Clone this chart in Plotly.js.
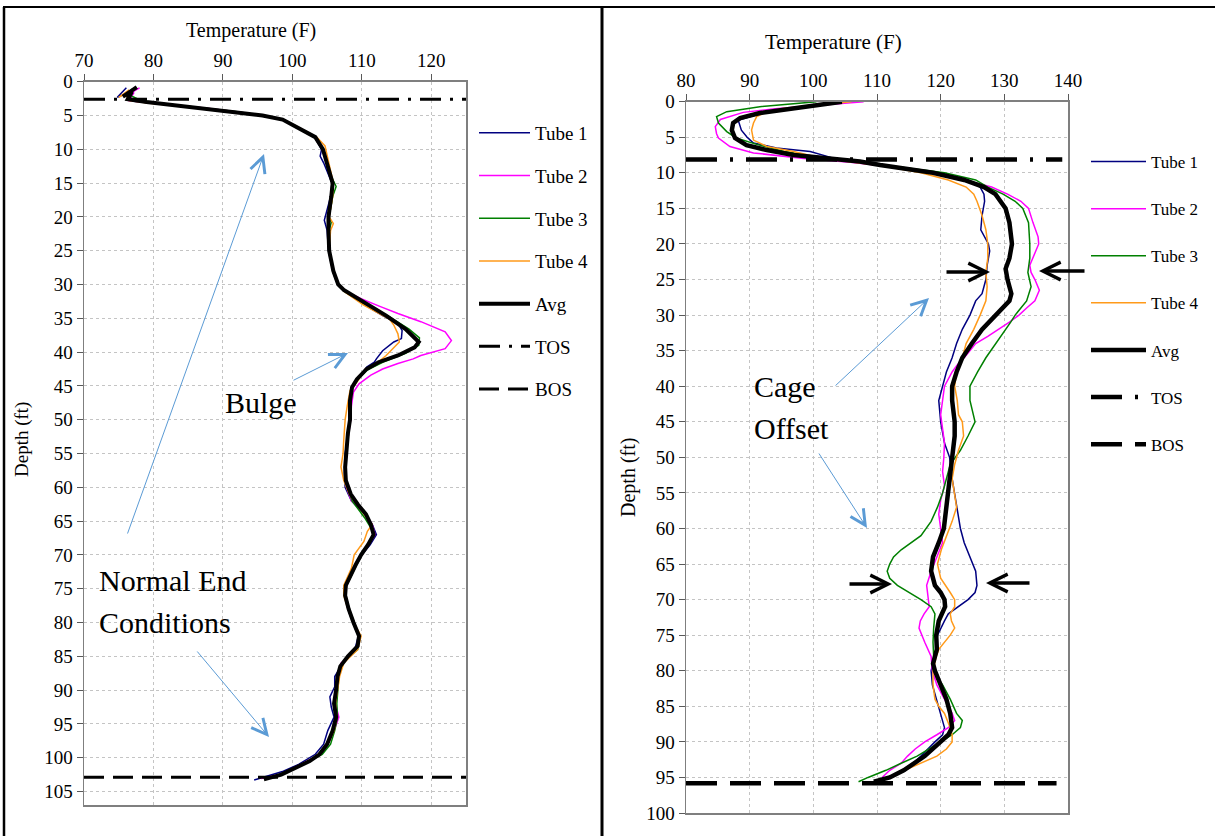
<!DOCTYPE html>
<html>
<head>
<meta charset="utf-8">
<script src="https://cdn.plot.ly/plotly-3.0.1.min.js"></script>
<style>
html,body{margin:0;padding:0;background:#fff;}
#chart{width:1215px;height:836px;}
</style>
</head>
<body>
<div id="chart"></div>
<script>
// ---------------- DATA (pairs are [depth ft, temperature F]) ----------------
const seriesNames = ['Tube 1', 'Tube 2', 'Tube 3', 'Tube 4', 'Avg', 'TOS', 'BOS'];
const seriesColors = ['#000080', '#ff00ff', '#008000', '#ff9a1a', '#000000', '#000000', '#000000'];

const leftTempTicks = [70, 80, 90, 100, 110, 120];
const leftDepthTicks = [0, 5, 10, 15, 20, 25, 30, 35, 40, 45, 50, 55, 60, 65, 70, 75, 80, 85, 90, 95, 100, 105];
const rightTempTicks = [80, 90, 100, 110, 120, 130, 140];
const rightDepthTicks = [0, 5, 10, 15, 20, 25, 30, 35, 40, 45, 50, 55, 60, 65, 70, 75, 80, 85, 90, 95, 100];

// Left chart
const leftTube1 = [[0.9,76.1],[2.3,74.8],[1.8,76.0],[2.9,77.2],[3.4,82.0],[4.0,88.0],[4.5,92.0],[5.0,95.5],[5.7,98.8],[6.7,100.7],[8.2,103.2],[10,104.2],[11,104.0],[12,104.5],[15,105.7],[17,105.5],[19,105.0],[20.5,104.6],[22,105.0],[25,105.2],[28,105.8],[30,106.5],[31,107.5],[33,110.4],[34.6,113.0],[35.8,115.2],[36.8,115.8],[38,115.7],[38.5,114.6],[39,114.0],[39.8,113.0],[41,112.1],[41.5,111.8],[42.2,110.7],[43.7,109.6],[45.2,108.5],[47,108.2],[50,108.2],[53,107.9],[55,107.6],[58,107.5],[60,107.6],[62,108.5],[64,110.4],[65.5,111.5],[67,112.1],[68.5,111.2],[70,110.0],[72,108.9],[74.5,107.7],[76,107.5],[78,108.0],[80,108.7],[82,109.5],[84,109.0],[86,107.3],[88,106.1],[89.5,106.1],[91,105.4],[92.5,105.6],[94,106.0],[96,105.1],[98,104.5],[99.5,103.3],[101,100.9],[102,98.7],[103.3,94.5]];
const leftTube2 = [[0.9,78.0],[2.1,76.0],[1.6,77.2],[2.8,76.5],[3.3,81.0],[3.9,87.5],[4.5,92.5],[5.0,95.8],[5.7,98.8],[6.7,100.6],[8.2,103.2],[10,104.4],[12,105.0],[15,105.8],[17,105.7],[20,105.3],[22,105.2],[25,105.3],[28,105.9],[30,106.6],[31,107.6],[32.1,109.9],[33.2,112.5],[34.3,115.2],[35.5,118.5],[37,122.0],[38.3,122.9],[39.5,122.0],[40.5,118.5],[41,117.4],[41.7,115.2],[42.5,113.0],[43.4,111.3],[44.7,109.6],[45.9,108.8],[48,108.5],[50,108.4],[53,108.0],[55,107.7],[58,107.6],[60,107.8],[62,108.5],[64,110.6],[65.5,111.5],[67,111.9],[68.5,111.0],[70,110.0],[72,108.8],[74.5,107.8],[76,107.6],[78,108.1],[80,108.8],[82,109.7],[84,109.3],[86,107.0],[88,106.6],[90,106.4],[92,106.2],[94,106.7],[96,106.0],[98,105.1],[99.5,104.0],[101,101.2],[102.5,98.2],[103.1,95.5]];
const leftTube3 = [[1.0,77.0],[2.0,76.6],[2.6,77.8],[3.0,79.5],[3.4,83.0],[3.9,87.5],[4.4,91.8],[5.0,95.6],[5.6,98.6],[6.7,100.6],[8.2,103.3],[10,104.5],[12,105.1],[14,105.6],[15.5,106.3],[17,105.8],[20,105.3],[20.8,105.6],[22,105.3],[25,105.3],[28,105.9],[30,106.6],[31,107.4],[33,110.5],[34.8,114.0],[36.6,116.8],[37.9,118.3],[39,118.2],[40.2,116.3],[41.5,113.0],[42.7,110.7],[44.3,109.1],[45.5,108.4],[48,108.3],[50,108.3],[53,108.0],[55,107.7],[58,107.7],[60,107.9],[62,108.6],[64.5,110.4],[66,111.3],[67,111.8],[68.5,111.0],[70,110.0],[72,109.0],[74.5,107.8],[76,107.7],[78,108.2],[80,108.9],[82,109.6],[84,109.4],[86,107.1],[88,106.7],[90,106.6],[92,106.4],[94,106.5],[96,106.1],[98,105.5],[99.5,104.3],[101,101.5],[102.5,98.6],[103.1,96.0]];
const leftTube4 = [[1.2,76.5],[2.3,75.0],[1.8,75.9],[2.8,76.5],[3.2,79.5],[3.7,85.0],[4.3,90.5],[5.0,95.7],[5.7,98.9],[6.7,100.8],[8.2,103.5],[9.5,104.7],[12,105.2],[15,105.9],[17,105.8],[20,105.3],[21,105.9],[22,105.5],[25,105.3],[28,105.9],[30,106.6],[31,107.4],[33,110.2],[35.1,114.0],[36,114.6],[37.3,115.2],[38.5,115.4],[39.3,114.6],[40.5,113.5],[41.7,112.1],[42.5,110.5],[44.3,109.4],[45.7,108.3],[48,107.9],[50,107.6],[53,107.4],[55,107.3],[57,107.0],[59,107.4],[61,108.2],[63,109.6],[64.5,110.7],[65.5,111.5],[66.5,110.8],[68,110.3],[70,108.9],[72,108.5],[74.5,107.4],[76,107.4],[78,108.0],[80,108.8],[82,109.9],[84,109.4],[86,107.4],[88,106.8],[90,106.5],[92,106.2],[94,106.4],[96,106.0],[98,105.1],[99.5,104.0],[101,101.3],[102.5,98.5],[103,96.3]];
const leftAvg = [[0.8,77.6],[2.2,75.6],[1.5,76.9],[2.6,76.3],[3.0,79.0],[3.4,82.5],[3.9,87.0],[4.4,91.5],[5.0,95.7],[5.6,98.6],[6.7,100.6],[7.5,101.9],[8.2,103.3],[10,104.4],[12,105.0],[15,105.8],[17,105.6],[20,105.2],[22,105.2],[25,105.3],[28,105.9],[30,106.6],[30.8,107.4],[32.9,110.7],[34.6,113.5],[36.6,116.3],[37.8,117.6],[38.5,118.2],[39.3,117.6],[40.5,115.2],[41.5,112.4],[42.5,110.7],[44,109.3],[45.2,108.6],[47.2,108.3],[50,108.3],[52,108.0],[55,107.7],[57,107.6],[59,107.7],[61,108.4],[62.5,109.4],[64,110.6],[65.5,111.3],[67,111.7],[68.5,110.9],[70,109.9],[71.5,109.1],[73,108.4],[74.5,107.7],[76,107.6],[78,108.1],[80,108.8],[82,109.6],[83.5,109.4],[85,108.0],[86.5,106.9],[88,106.5],[90,106.3],[92,106.0],[94,106.3],[96,105.8],[98,105.0],[99.5,103.9],[100.5,102.5],[101.5,100.3],[102.5,98.4],[103.2,95.9]];
const leftTOS = [[2.6,70],[2.6,125]];
const leftBOS = [[102.9,70],[102.9,125]];

// Right chart
const rightTube1 = [[0,104.0],[0.8,97.0],[1.6,92.0],[2.6,88.2],[4.0,88.7],[5.0,89.6],[5.8,90.6],[6.5,94.2],[7.0,99.5],[7.5,101.5],[8.0,103.4],[9,110.8],[10,119.4],[11,124.3],[12,126.2],[13,126.8],[14,126.9],[16,126.5],[18,126.3],[20,127.5],[21,127.7],[23,127.3],[25,127.1],[27,126.5],[28,125.5],[30,124.6],[32,123.4],[34,122.5],[36,121.8],[38,120.9],[40,120.3],[42,119.7],[44,119.9],[45,120.0],[48,120.6],[50,121.4],[53,121.8],[55,122.2],[57,122.6],[60,123.1],[62,123.7],[64,124.6],[66,125.5],[68,125.7],[69,125.4],[70,124.3],[71,122.8],[72,121.2],[73,120.6],[74,120.0],[75,119.5],[77,119.3],[79,118.8],[80,118.5],[82,118.7],[84,119.3],[86,120.0],[88,120.6],[89,120.3],[90,119.1],[92,116.9],[94,114.5],[95,112.0],[95.6,110.0]];
const rightTube2 = [[0,107.9],[0.5,101.0],[1,94.0],[1.5,89.0],[2.5,85.4],[3.5,84.6],[4.5,84.8],[5.1,85.1],[6.3,86.9],[7.2,90.6],[7.7,95.8],[8.0,98.5],[8.5,105.8],[9,110.8],[10,118.2],[11,123.7],[12,128.0],[13,130.5],[14,132.6],[15,133.8],[17,134.5],[19,135.3],[20,135.4],[22,134.5],[23,134.0],[24,134.2],[25,134.8],[26.5,135.5],[28,134.8],[29,133.5],[30,132.3],[31,130.8],[32,129.2],[33,127.4],[34,125.5],[35,124.6],[36,123.7],[37,122.6],[38,121.8],[40,120.6],[42,120.3],[44,120.0],[46,120.3],[48,120.6],[50,120.5],[52,120.3],[54,120.6],[56,120.0],[58,119.7],[60,120.0],[62,120.3],[64,119.4],[66,118.5],[68,117.8],[70,118.0],[71,118.2],[72,117.4],[73,116.8],[74,116.6],[75,117.0],[76,117.5],[78,118.5],[80,118.7],[82,119.4],[84,120.6],[86,121.8],[87,122.2],[88,121.2],[89,119.4],[90,117.5],[91,116.0],[92,114.8],[93,113.8],[94,112.0],[95,110.8]];
const rightTube3 = [[0,100.5],[0.7,91.6],[1.4,86.4],[2.1,84.8],[3.0,85.1],[4.2,86.4],[5.1,87.9],[6,91.1],[7,95.4],[8,102.2],[9,112.0],[10,120.6],[11,125.5],[12,127.4],[13,129.8],[14,131.7],[15,132.9],[17,133.8],[20,134.0],[22,134.0],[24,133.7],[26,134.2],[28,133.5],[29,132.6],[30,131.7],[31,131.0],[32,130.2],[34,128.6],[36,127.1],[38,125.8],[40,124.6],[42,124.6],[44,125.2],[45,125.4],[47,124.3],[49,123.1],[51,121.5],[53,120.9],[55,120.3],[57,119.5],[59,118.5],[61,116.9],[62,115.4],[63,113.8],[64,112.6],[65,112.0],[66,111.6],[67,112.0],[68,113.2],[69,115.1],[70,116.9],[71,118.5],[72,119.1],[74,118.9],[76,118.8],[78,118.9],[80,118.8],[82,120.3],[84,121.5],[86,122.5],[87,123.4],[88,123.1],[89,121.8],[90,120.0],[91,118.2],[92,116.3],[93,113.8],[94,111.4],[95,108.6],[95.6,107.1]];
const rightTube4 = [[0,106.0],[0.5,99.5],[1,95.0],[1.5,92.5],[2.1,91.1],[3,90.6],[4.0,90.3],[5.4,90.6],[6.3,92.7],[7,96.9],[8,101.5],[9,110.8],[10,116.9],[11,121.2],[12,124.0],[13,125.2],[14,125.7],[16,126.5],[18,127.1],[20,127.4],[22,127.4],[24,127.1],[26,127.3],[28,127.1],[30,126.2],[32,125.2],[34,124.0],[36,123.4],[38,122.5],[40,122.2],[42,122.6],[44,122.8],[45,123.4],[47,123.6],[49,122.8],[51,122.2],[53,121.8],[55,122.2],[57,122.5],[59,121.8],[61,120.9],[63,120.1],[65,119.5],[67,120.0],[69,121.5],[70,122.2],[71,122.2],[72,121.5],[73,121.7],[74,122.2],[75,121.5],[76,120.6],[77,119.7],[78,119.3],[80,118.8],[82,118.8],[84,119.1],[85,119.7],[86,120.6],[88,121.5],[89,121.8],[90,121.8],[91,120.9],[92,119.4],[93,116.9],[94,114.5],[95,112.0],[95.5,110.5]];
const rightAvg = [[0,104.5],[0.9,96.9],[1.6,91.6],[2.3,88.5],[3.0,87.4],[4.0,87.2],[5.1,87.7],[6.1,89.5],[6.8,92.7],[7.5,96.9],[7.9,102.1],[8.4,107.3],[8.9,110.5],[10,118.8],[11,123.7],[12,126.8],[13,128.6],[15,130.2],[17,130.8],[20,131.2],[22,130.8],[23.5,130.2],[25,130.5],[27,131.1],[28,130.8],[30,128.6],[32,126.5],[34,124.9],[36,123.4],[38,122.5],[40,121.8],[42,121.8],[45,122.2],[47,122.2],[50,121.8],[55,121.2],[58,120.9],[60,120.5],[62,119.7],[64,118.8],[66,118.5],[68,119.1],[69,120.0],[70,120.6],[71,120.7],[73,119.7],[75,119.3],[77,119.4],[79,118.8],[80,119.1],[82,120.0],[84,120.9],[86,121.5],[88,121.8],[89,121.2],[90,120.0],[92,117.5],[94,114.2],[95,112.0],[95.6,109.5]];
const rightTOS = [[8.14,80],[8.14,139.1]];
const rightBOS = [[95.8,80],[95.8,138.2]];

// ---------------- LAYOUT HELPERS ----------------
const W = 1215, H = 836;
const FONT = 'Liberation Serif';
const px = x => x / W;
const py = y => 1 - y / H;

function mk(pairs, i, xa, ya, lg, width, dash) {
  return {
    type: 'scatter', mode: 'lines',
    x: pairs.map(p => p[1]), y: pairs.map(p => p[0]),
    xaxis: xa, yaxis: ya, legend: lg,
    name: seriesNames[i], legendgroup: lg + i,
    line: {color: seriesColors[i], width: width, dash: dash || 'solid'},
    hoverinfo: 'skip'
  };
}

const traces = [
  mk(leftTube1, 0, 'x', 'y', 'legend', 1.5),
  mk(leftTube2, 1, 'x', 'y', 'legend', 1.5),
  mk(leftTube3, 2, 'x', 'y', 'legend', 1.5),
  mk(leftTube4, 3, 'x', 'y', 'legend', 1.5),
  mk(leftAvg, 4, 'x', 'y', 'legend', 4),
  mk(leftTOS, 5, 'x', 'y', 'legend', 3, '21px,9px,3px,9px'),
  mk(leftBOS, 6, 'x', 'y', 'legend', 3, '20px,9px'),
  mk(rightTube1, 0, 'x2', 'y2', 'legend2', 1.5),
  mk(rightTube2, 1, 'x2', 'y2', 'legend2', 1.5),
  mk(rightTube3, 2, 'x2', 'y2', 'legend2', 1.5),
  mk(rightTube4, 3, 'x2', 'y2', 'legend2', 1.5),
  mk(rightAvg, 4, 'x2', 'y2', 'legend2', 4.5),
  mk(rightTOS, 5, 'x2', 'y2', 'legend2', 4.5, '31px,13px,3px,13px'),
  mk(rightBOS, 6, 'x2', 'y2', 'legend2', 4.5, '31px,13px')
];

function axisX(domain, range, ticks, anchor) {
  return {
    domain: domain, range: range, anchor: anchor, side: 'top',
    tickmode: 'array', tickvals: ticks, ticktext: ticks.map(String),
    ticks: 'outside', ticklen: 6, tickcolor: '#595959', tickwidth: 1,
    tickfont: {family: FONT, size: 19, color: '#000'},
    showgrid: true, gridcolor: '#c4c4c4', griddash: 'dot', gridwidth: 1,
    showline: true, linecolor: '#7f7f7f', linewidth: 1.5, mirror: true,
    zeroline: false, fixedrange: true
  };
}
function axisY(domain, range, ticks, anchor) {
  return {
    domain: domain, range: range, anchor: anchor,
    tickmode: 'array', tickvals: ticks, ticktext: ticks.map(String),
    ticks: 'outside', ticklen: 6, tickcolor: '#595959', tickwidth: 1,
    tickfont: {family: FONT, size: 19, color: '#000'},
    showgrid: true, gridcolor: '#c4c4c4', griddash: 'dot', gridwidth: 1,
    showline: true, linecolor: '#7f7f7f', linewidth: 1.5, mirror: true,
    zeroline: false, fixedrange: true
  };
}

function txt(text, x, y, size, opts) {
  return Object.assign({
    text: text, xref: 'paper', yref: 'paper', x: px(x), y: py(y),
    showarrow: false, xanchor: 'center', yanchor: 'middle',
    font: {family: FONT, size: size, color: '#000'}
  }, opts || {});
}
function arrow(hx, hy, tx, ty, color, width, size) {
  return {
    text: '', xref: 'paper', yref: 'paper', x: px(hx), y: py(hy),
    ax: tx - hx, ay: ty - hy, showarrow: true,
    arrowhead: 5, arrowsize: size, arrowwidth: width, arrowcolor: color,
    standoff: 0, startstandoff: 0
  };
}

const BLUE = '#5b9bd5';
const annotations = [
  txt('Temperature (F)', 251, 31, 20),
  txt('Temperature (F)', 833, 42, 21),
  txt('Depth (ft)', 22, 440, 19, {textangle: -90}),
  txt('Depth (ft)', 628, 478, 20, {textangle: -90}),
  txt('Bulge', 261, 403, 30),
  txt('Normal End', 97, 580, 30, {xanchor: 'left'}),
  txt('Conditions', 97, 622, 30, {xanchor: 'left'}),
  txt('Cage', 752, 386, 30, {xanchor: 'left'}),
  txt('Offset', 752, 428, 30, {xanchor: 'left'}),
  arrow(264, 154, 127, 535, BLUE, 1, 3),
  arrow(348, 353, 292, 381, BLUE, 1, 3),
  arrow(269, 737, 196, 650, BLUE, 1, 3),
  arrow(929, 298, 834, 387, BLUE, 1, 3),
  arrow(867, 528, 818, 452, BLUE, 1, 3),
  arrow(990, 272, 945, 272, '#000', 3.5, 1),
  arrow(1039, 271, 1086, 271, '#000', 3.5, 1),
  arrow(892, 584, 848, 584, '#000', 3.5, 1),
  arrow(986, 583, 1031, 583, '#000', 3.5, 1)
];

const shapes = [
  {type: 'line', xref: 'paper', yref: 'paper', x0: px(3), x1: 1, y0: py(7), y1: py(7), line: {color: '#000', width: 2}},
  {type: 'line', xref: 'paper', yref: 'paper', x0: px(4), x1: px(4), y0: py(7), y1: 0, line: {color: '#000', width: 2.5}},
  {type: 'line', xref: 'paper', yref: 'paper', x0: px(602), x1: px(602), y0: py(7), y1: 0, line: {color: '#000', width: 3}}
];

const layout = {
  width: W, height: H,
  margin: {l: 0, r: 0, t: 0, b: 0, pad: 0},
  paper_bgcolor: '#fff', plot_bgcolor: '#fff',
  font: {family: FONT, color: '#000'},
  showlegend: true,
  xaxis: axisX([px(84), px(466)], [70, 125], leftTempTicks, 'y'),
  yaxis: axisY([py(805), py(81.7)], [107, 0], leftDepthTicks, 'x'),
  xaxis2: axisX([px(686), px(1068)], [80, 140], rightTempTicks, 'y2'),
  yaxis2: axisY([py(813), py(101.7)], [100, 0], rightDepthTicks, 'x2'),
  legend: {
    x: px(474), y: py(114), xanchor: 'left', yanchor: 'top',
    bgcolor: 'rgba(0,0,0,0)', borderwidth: 0,
    font: {family: FONT, size: 19, color: '#000'},
    itemwidth: 51, traceorder: 'grouped', tracegroupgap: 15
  },
  legend2: {
    x: px(1086), y: py(144), xanchor: 'left', yanchor: 'top',
    bgcolor: 'rgba(0,0,0,0)', borderwidth: 0,
    font: {family: FONT, size: 17, color: '#000'},
    itemwidth: 55, traceorder: 'grouped', tracegroupgap: 22
  },
  annotations: annotations,
  shapes: shapes
};

Plotly.newPlot('chart', traces, layout, {displayModeBar: false, staticPlot: true});
</script>
</body>
</html>
